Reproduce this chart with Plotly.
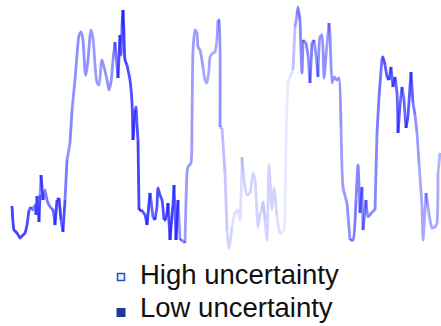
import plotly.graph_objects as go

# time samples, signal amplitude and per-sample uncertainty weight (1 = confident)
t = [12, 13, 14, 17, 20, 22, 25, 27, 29, 31, 33, 35, 36, 37, 39, 40, 41, 43, 45, 47,
     49, 51, 53, 55, 57, 59, 61, 63, 65, 67, 70, 72, 75, 77, 79, 81, 83, 85, 86, 88,
     90, 91, 93, 95, 97, 99, 101, 102, 104, 106, 108, 109, 111, 113, 115, 117, 118, 120, 121, 122,
     123, 124, 125, 127, 128, 130, 132, 133, 135, 136, 137, 138, 139, 141, 143, 145, 147, 150, 153, 155,
     157, 158, 160, 162, 164, 165, 167, 168, 170, 172, 173, 174, 176, 178, 180, 182, 185, 187, 188, 191,
     192, 193, 195, 197, 198, 200, 203, 205, 207, 209, 210, 213, 215, 217, 218, 219, 220, 222, 223, 225,
     227, 229, 232, 235, 238, 240, 242, 245, 247, 250, 253, 255, 258, 260, 262, 263, 265, 267, 269, 272,
     274, 277, 280, 282, 284, 286, 288, 290, 293, 295, 297, 298, 300, 302, 303, 306, 308, 310, 312, 314,
     316, 317, 318, 320, 322, 324, 326, 329, 330, 332, 334, 337, 339, 341, 343, 347, 350, 353, 356, 358,
     360, 362, 363, 366, 368, 372, 375, 377, 379, 382, 383, 385, 387, 389, 391, 393, 395, 397, 398, 400,
     402, 404, 406, 408, 411, 413, 415, 417, 419, 422, 423, 426, 428, 430, 432, 435, 437, 438, 440]

signal = [44, 28, 20, 17, 12, 14, 17, 25, 40, 43, 40, 45, 35, 54, 28, 55, 75, 50, 60, 50,
          45, 42, 40, 25, 50, 52, 30, 18, 50, 90, 107, 140, 170, 195, 215, 218, 210, 178, 175, 190,
          215, 220, 212, 185, 167, 165, 185, 190, 183, 175, 165, 160, 168, 190, 208, 185, 172, 215, 195, 223,
          240, 215, 190, 185, 180, 170, 147, 110, 140, 143, 125, 110, 40, 40, 38, 35, 25, 57, 33, 30,
          43, 62, 55, 50, 30, 30, 37, 47, 10, 35, 45, 65, 10, 50, 10, 10, 7, 77, 83, 87,
          130, 200, 220, 217, 203, 200, 183, 170, 167, 180, 193, 197, 198, 210, 230, 230, 123, 122, 107, 77,
          20, 2, 23, 37, 40, 30, 93, 63, 55, 57, 77, 70, 23, 35, 40, 48, 30, 10, 85, 40,
          62, 33, 17, 17, 20, 107, 167, 173, 180, 223, 235, 243, 230, 177, 210, 207, 195, 167, 207, 210,
          195, 185, 173, 213, 215, 172, 195, 227, 215, 167, 173, 170, 172, 123, 63, 47, 10, 10, 50, 85,
          37, 63, 20, 50, 33, 38, 40, 117, 153, 192, 193, 185, 173, 170, 183, 163, 173, 157, 117, 145,
          163, 150, 122, 133, 178, 147, 135, 117, 87, 43, 10, 57, 43, 30, 22, 23, 27, 77, 97]

confidence = [.85, .85, .85, .85, .85, .85, .85, .8, .7, .6, .6, .6, .7, .6, .8, .5, .85, .6, .6, .6,
              .6, .7, .7, .85, .7, .85, .7, .8, .6, .5, .55, .5, .5, .5, .5, .5, .5, .5, .5, .5,
              .45, .45, .45, .45, .45, .45, .5, .5, .5, .5, .5, .5, .5, .55, .6, .65, .8, .7, .7, .85,
              .9, .85, .85, .8, .8, .8, .8, .85, .75, .75, .8, .85, .9, .85, .8, .8, .85, .7, .8, .75,
              .8, .8, .8, .8, .85, .85, .85, .8, .9, .85, .8, .7, .9, .5, .6, .5, .45, .45, .45, .45,
              .45, .45, .45, .45, .45, .45, .4, .4, .4, .4, .4, .4, .4, .45, .5, .5, .35, .3, .3, .25,
              .2, .2, .15, .15, .15, .15, .2, .2, .2, .2, .2, .2, .2, .2, .25, .25, .2, .2, .2, .2,
              .2, .15, .15, .1, .1, .1, .1, .15, .3, .45, .6, .6, .55, .55, .5, .55, .5, .6, .55, .5,
              .5, .55, .5, .5, .5, .5, .45, .5, .5, .5, .5, .5, .5, .45, .45, .5, .6, .6, .55, .55,
              .6, .5, .6, .55, .55, .5, .55, .6, .65, .8, .8, .75, .8, .75, .7, .75, .7, .7, .75, .7,
              .65, .7, .8, .75, .7, .6, .5, .45, .4, .4, .4, .45, .4, .4, .4, .4, .4, .35, .35]

legend_labels = ["High uncertainty", "Low uncertainty"]

W, H = 441, 326


def px(x):
    return x / W


def py(y):
    return 1 - y / H


fig = go.Figure()

# draw the trace as runs of equal confidence, each run joined to the next sample
start = 0
n = len(t)
while start < n - 1:
    end = start + 1
    while end < n - 1 and confidence[end] == confidence[start]:
        end += 1
    a = confidence[start]
    fig.add_trace(go.Scatter(
        x=t[start:end + 1], y=signal[start:end + 1], mode="lines",
        line=dict(color=f"rgba(35,35,255,{a})", width=2.8, shape="spline", smoothing=0.5),
        showlegend=False, hoverinfo="skip"))
    start = end

# key: swatch + label for each uncertainty level
key_font = dict(family="Liberation Sans, Arial, sans-serif", size=27.5, color="#111111")
annotations = [
    dict(text=legend_labels[0], x=px(138), y=py(274), xref="paper", yref="paper",
         xanchor="left", yanchor="middle", showarrow=False, font=key_font),
    dict(text=legend_labels[1], x=px(138), y=py(307), xref="paper", yref="paper",
         xanchor="left", yanchor="middle", showarrow=False, font=key_font),
]
shapes = [
    dict(type="rect", xref="paper", yref="paper",
         x0=px(117.5), x1=px(124.5), y0=py(280.5), y1=py(273.5),
         line=dict(color="#2f4fb8", width=1.5), fillcolor="#eef0ff"),
    dict(type="rect", xref="paper", yref="paper",
         x0=px(116.5), x1=px(125.5), y0=py(317), y1=py(308),
         line=dict(width=0), fillcolor="#1c3a9c"),
]

fig.update_layout(
    width=W, height=H,
    margin=dict(l=0, r=0, t=0, b=0),
    paper_bgcolor="white", plot_bgcolor="white",
    showlegend=False,
    xaxis=dict(visible=False, range=[0, 441]),
    yaxis=dict(visible=False, range=[-76, 250]),
    annotations=annotations,
    shapes=shapes,
)

fig.write_html("out.html")
